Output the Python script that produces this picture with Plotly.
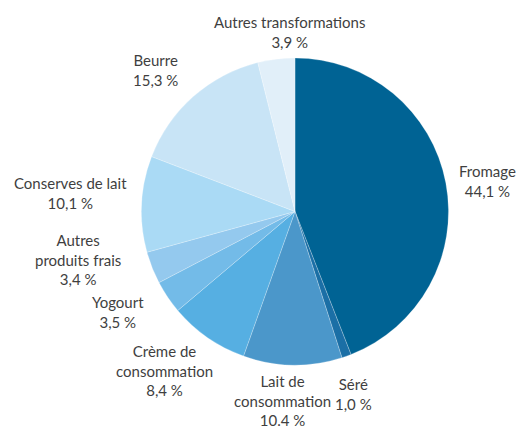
import plotly.graph_objects as go

categories = ["Fromage", "Séré", "Lait de consommation", "Crème de consommation",
              "Yogourt", "Autres produits frais", "Conserves de lait", "Beurre",
              "Autres transformations"]
values = [44.1, 1.0, 10.4, 8.4, 3.5, 3.4, 10.1, 15.3, 3.9]
value_labels = ["44,1 %", "1,0 %", "10.4 %", "8,4 %", "3,5 %", "3,4 %", "10,1 %", "15,3 %", "3,9 %"]
label_lines = ["Fromage", "Séré", "Lait de<br>consommation", "Crème de<br>consommation",
               "Yogourt", "Autres<br>produits frais", "Conserves de lait", "Beurre",
               "Autres transformations"]
colors = ["#006394", "#1b6fa6", "#4b97ca", "#56afe2", "#73bbe8", "#94c9ee",
          "#aadaf5", "#c8e4f6", "#e1eff9"]

W, H = 518, 430
cx, cy, r = 295, 211.5, 153.5

# label centres in pixels (layout)
label_pos = [(487, 181), (353, 394), (282, 400), (164, 370), (118, 312),
             (78, 259), (70, 193), (155, 70), (289, 32)]

fig = go.Figure(go.Pie(
    labels=categories, values=values, sort=False, direction="clockwise",
    rotation=0, marker=dict(colors=colors, line=dict(width=0.4, color="rgba(255,255,255,0.6)")),
    textinfo="none", hoverinfo="label+percent", showlegend=False,
    domain=dict(x=[(cx - r) / W, (cx + r) / W], y=[1 - (cy + r) / H, 1 - (cy - r) / H]),
))

for txt, val, (px, py) in zip(label_lines, value_labels, label_pos):
    fig.add_annotation(x=px / W, y=1 - py / H, xref="paper", yref="paper",
                       text=f"{txt}<br>{val}", showarrow=False, align="center",
                       xanchor="center", yanchor="middle",
                       font=dict(size=15, color="#3f3f3f", family="Lato"))

fig.update_layout(width=W, height=H, margin=dict(l=0, r=0, t=0, b=0),
                  paper_bgcolor="white", plot_bgcolor="white")
fig.write_html("out.html", config={"displayModeBar": False},
               post_script="document.body.style.margin='0';")
